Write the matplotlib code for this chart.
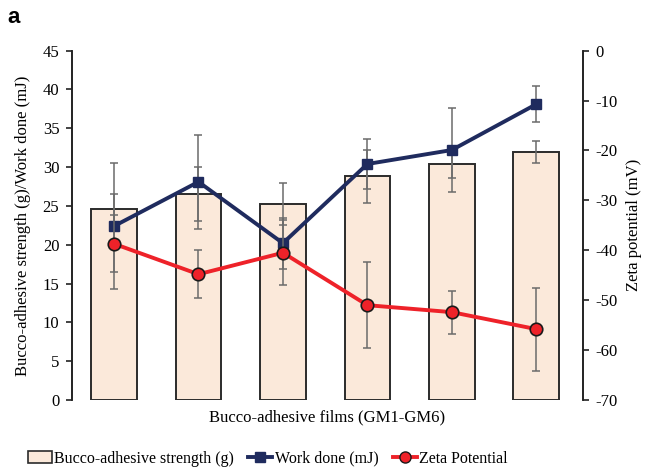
import numpy as np
import matplotlib
matplotlib.use('Agg')
import matplotlib.pyplot as plt
from matplotlib.patches import Patch
from matplotlib.lines import Line2D

plt.rcParams['font.family'] = ['Liberation Serif', 'DejaVu Serif']
plt.rcParams['axes.unicode_minus'] = False

films = ['GM1', 'GM2', 'GM3', 'GM4', 'GM5', 'GM6']
strength = [24.6, 26.5, 25.2, 28.8, 30.4, 31.9]
strength_err = [2.0, 3.5, 2.7, 3.4, 1.8, 1.4]
work = [22.4, 28.1, 20.2, 30.4, 32.2, 38.1]
work_err = [8.1, 6.1, 3.3, 3.2, 5.4, 2.3]
zeta = [-38.7, -44.8, -40.5, -51.0, -52.4, -55.8]
zeta_err = [5.7, 4.8, 6.5, 8.6, 4.3, 8.3]

bar_fc = '#fbe9da'
navy = '#1f2b5e'
red = '#ee2229'
err_c = '#6b6b6b'

fig = plt.figure(figsize=(6.47, 4.67), dpi=100)
ax = fig.add_axes([0.111, 0.1435, 0.7896, 0.748])
ax2 = ax.twinx()

x = np.arange(len(films))
ax.bar(x, strength, width=0.54, color=bar_fc, edgecolor='#2b2b2b', linewidth=1.4, zorder=1)
ax.errorbar(x, strength, yerr=strength_err, fmt='none', ecolor=err_c, elinewidth=1.1,
            capsize=3, capthick=1.1, zorder=2)
ax.errorbar(x, work, yerr=work_err, fmt='none', ecolor=err_c, elinewidth=1.1,
            capsize=3, capthick=1.1, zorder=2)
ax.plot(x, work, color=navy, lw=2.8, marker='s', ms=7.5, mec=navy, zorder=3)

ax2.errorbar(x, zeta, yerr=zeta_err, fmt='none', ecolor=err_c, elinewidth=1.1,
             capsize=3, capthick=1.1, zorder=2)
ax2.plot(x, zeta, color=red, lw=2.8, marker='o', ms=9, mec='#1a1a1a', mew=1.2, zorder=3)

ax.set_xlim(-0.5, 5.55)
ax.set_ylim(0, 45)
ax.set_yticks(np.arange(0, 46, 5))
ax2.set_ylim(-70, 0)
ax2.set_yticks(np.arange(-70, 1, 10))
ax.set_xticks([])

for a in (ax, ax2):
    a.spines['top'].set_visible(False)
    a.spines['bottom'].set_visible(False)
    a.spines['left'].set_color('#222222')
    a.spines['right'].set_color('#222222')
    a.spines['left'].set_linewidth(1.2)
    a.spines['right'].set_linewidth(1.2)
    a.tick_params(axis='y', direction='out', length=4, width=1.2, labelsize=12,
                  color='#222222', pad=5)

ax.set_ylabel('Bucco-adhesive strength (g)/Work done (mJ)', fontsize=12, labelpad=8)
ax2.set_ylabel('Zeta potential (mV)', fontsize=12, labelpad=6)
ax.set_xlabel('Bucco-adhesive films (GM1-GM6)', fontsize=12, labelpad=7)

handles = [
    Patch(facecolor=bar_fc, edgecolor='#2b2b2b', linewidth=1.2),
    Line2D([], [], color=navy, lw=2.8, marker='s', ms=7, mec=navy),
    Line2D([], [], color=red, lw=2.8, marker='o', ms=8, mec='#1a1a1a'),
]
labels = ['Bucco-adhesive strength (g)', 'Work done (mJ)', 'Zeta Potential']
fig.legend(handles, labels, loc='lower center', bbox_to_anchor=(0.414, -0.03), ncol=3,
           frameon=False, fontsize=11.5, handlelength=1.5, handletextpad=0.15,
           columnspacing=0.9)

fig.text(0.012, 0.985, 'a', fontsize=16, fontweight='bold', va='top', ha='left',
         family='Liberation Sans')

fig.savefig('out.png', dpi=100)
